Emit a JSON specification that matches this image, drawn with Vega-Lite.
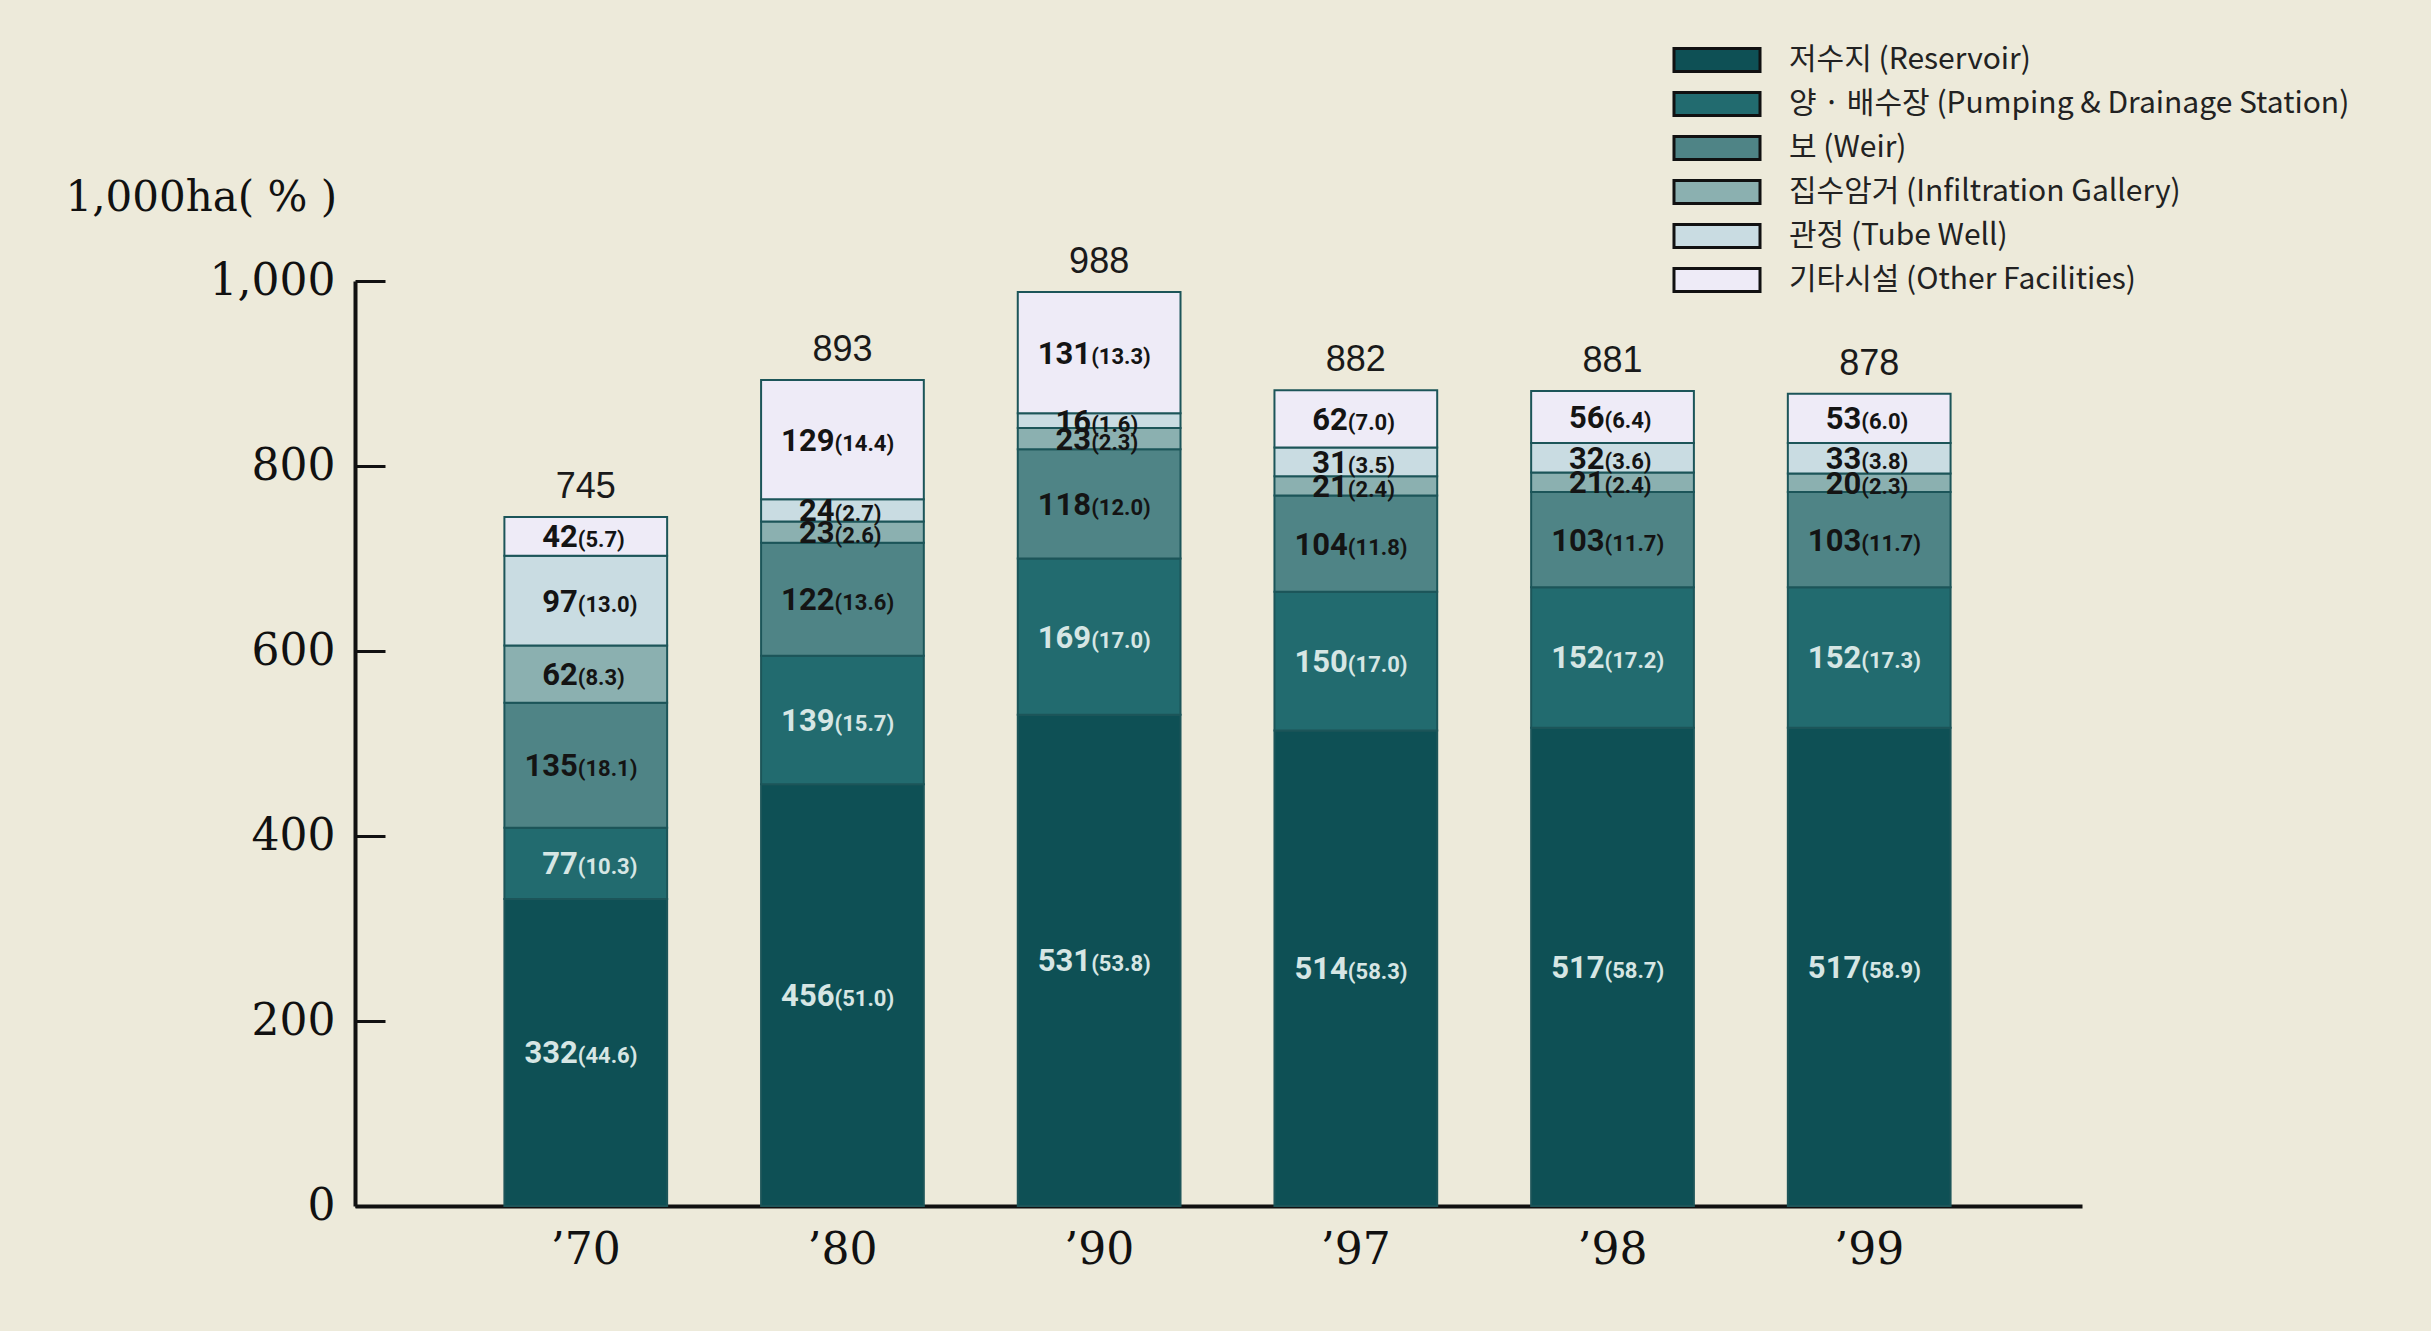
{
  "$schema": "https://vega.github.io/schema/vega-lite/v6.json",
  "width": 1727,
  "height": 925,
  "autosize": "none",
  "padding": {"left": 355, "top": 281, "right": 349, "bottom": 125},
  "background": "#EDEADA",
  "config": {
    "view": {"stroke": null},
    "legend": {
      "orient": "none",
      "legendX": 1347,
      "legendY": -236,
      "padding": 0,
      "symbolType": "M-3.74,-1H3.74V1H-3.74Z",
      "symbolSize": 529,
      "symbolStrokeColor": "#111111",
      "symbolStrokeWidth": 3,
      "symbolOpacity": 1,
      "labelFont": "Noto Sans CJK KR",
      "labelFontSize": 30,
      "labelColor": "#222222",
      "labelOffset": 57,
      "labelLimit": 1000,
      "rowPadding": 8
    }
  },
  "data": {
    "values": [
      {"year": "’70", "k": 1, "type": "저수지 (Reservoir)", "v": 332, "p": "44.6"},
      {"year": "’70", "k": 2, "type": "양 · 배수장 (Pumping & Drainage Station)", "v": 77, "p": "10.3"},
      {"year": "’70", "k": 3, "type": "보 (Weir)", "v": 135, "p": "18.1"},
      {"year": "’70", "k": 4, "type": "집수암거 (Infiltration Gallery)", "v": 62, "p": "8.3"},
      {"year": "’70", "k": 5, "type": "관정 (Tube Well)", "v": 97, "p": "13.0"},
      {"year": "’70", "k": 6, "type": "기타시설 (Other Facilities)", "v": 42, "p": "5.7"},
      {"year": "’80", "k": 1, "type": "저수지 (Reservoir)", "v": 456, "p": "51.0"},
      {"year": "’80", "k": 2, "type": "양 · 배수장 (Pumping & Drainage Station)", "v": 139, "p": "15.7"},
      {"year": "’80", "k": 3, "type": "보 (Weir)", "v": 122, "p": "13.6"},
      {"year": "’80", "k": 4, "type": "집수암거 (Infiltration Gallery)", "v": 23, "p": "2.6"},
      {"year": "’80", "k": 5, "type": "관정 (Tube Well)", "v": 24, "p": "2.7"},
      {"year": "’80", "k": 6, "type": "기타시설 (Other Facilities)", "v": 129, "p": "14.4"},
      {"year": "’90", "k": 1, "type": "저수지 (Reservoir)", "v": 531, "p": "53.8"},
      {"year": "’90", "k": 2, "type": "양 · 배수장 (Pumping & Drainage Station)", "v": 169, "p": "17.0"},
      {"year": "’90", "k": 3, "type": "보 (Weir)", "v": 118, "p": "12.0"},
      {"year": "’90", "k": 4, "type": "집수암거 (Infiltration Gallery)", "v": 23, "p": "2.3"},
      {"year": "’90", "k": 5, "type": "관정 (Tube Well)", "v": 16, "p": "1.6"},
      {"year": "’90", "k": 6, "type": "기타시설 (Other Facilities)", "v": 131, "p": "13.3"},
      {"year": "’97", "k": 1, "type": "저수지 (Reservoir)", "v": 514, "p": "58.3"},
      {"year": "’97", "k": 2, "type": "양 · 배수장 (Pumping & Drainage Station)", "v": 150, "p": "17.0"},
      {"year": "’97", "k": 3, "type": "보 (Weir)", "v": 104, "p": "11.8"},
      {"year": "’97", "k": 4, "type": "집수암거 (Infiltration Gallery)", "v": 21, "p": "2.4"},
      {"year": "’97", "k": 5, "type": "관정 (Tube Well)", "v": 31, "p": "3.5"},
      {"year": "’97", "k": 6, "type": "기타시설 (Other Facilities)", "v": 62, "p": "7.0"},
      {"year": "’98", "k": 1, "type": "저수지 (Reservoir)", "v": 517, "p": "58.7"},
      {"year": "’98", "k": 2, "type": "양 · 배수장 (Pumping & Drainage Station)", "v": 152, "p": "17.2"},
      {"year": "’98", "k": 3, "type": "보 (Weir)", "v": 103, "p": "11.7"},
      {"year": "’98", "k": 4, "type": "집수암거 (Infiltration Gallery)", "v": 21, "p": "2.4"},
      {"year": "’98", "k": 5, "type": "관정 (Tube Well)", "v": 32, "p": "3.6"},
      {"year": "’98", "k": 6, "type": "기타시설 (Other Facilities)", "v": 56, "p": "6.4"},
      {"year": "’99", "k": 1, "type": "저수지 (Reservoir)", "v": 517, "p": "58.9"},
      {"year": "’99", "k": 2, "type": "양 · 배수장 (Pumping & Drainage Station)", "v": 152, "p": "17.3"},
      {"year": "’99", "k": 3, "type": "보 (Weir)", "v": 103, "p": "11.7"},
      {"year": "’99", "k": 4, "type": "집수암거 (Infiltration Gallery)", "v": 20, "p": "2.3"},
      {"year": "’99", "k": 5, "type": "관정 (Tube Well)", "v": 33, "p": "3.8"},
      {"year": "’99", "k": 6, "type": "기타시설 (Other Facilities)", "v": 53, "p": "6.0"}
    ]
  },
  "transform": [
    {"stack": "v", "groupby": ["year"], "sort": [{"field": "k", "order": "ascending"}], "as": ["y0", "y1"]},
    {"calculate": "(datum.y0 + datum.y1) / 2", "as": "ym"},
    {"calculate": "'(' + datum.p + ')'", "as": "pl"}
  ],
  "encoding": {
    "x": {
      "field": "year",
      "type": "nominal",
      "sort": null,
      "scale": {"paddingInner": 0.366, "paddingOuter": 0.547, "align": 0.532},
      "axis": {
        "title": null,
        "labelAngle": 0,
        "labelFont": "DejaVu Serif",
        "labelFontSize": 44,
        "labelColor": "#111111",
        "labelPadding": 22,
        "ticks": false,
        "domainColor": "#111111",
        "domainWidth": 4
      }
    },
    "y": {
      "field": "y1",
      "type": "quantitative",
      "scale": {"domain": [0, 1000], "nice": false},
      "axis": {
        "title": "1,000ha( % )",
        "titleAngle": 0,
        "titleAlign": "left",
        "titleBaseline": "middle",
        "titleX": -290,
        "titleY": -84,
        "titleFont": "DejaVu Serif",
        "titleFontSize": 42,
        "titleFontWeight": "normal",
        "titleColor": "#111111",
        "values": [0, 200, 400, 600, 800, 1000],
        "format": ",d",
        "grid": false,
        "labelFont": "DejaVu Serif",
        "labelFontSize": 44,
        "labelColor": "#111111",
        "labelPadding": 50,
        "tickSize": -30,
        "tickWidth": 3,
        "tickColor": "#111111",
        "domainColor": "#111111",
        "domainWidth": 4
      }
    }
  },
  "layer": [
    {
      "mark": {"type": "bar", "stroke": "#1C5559", "strokeWidth": 2},
      "encoding": {
        "y2": {"field": "y0"},
        "color": {
          "field": "type",
          "type": "nominal",
          "sort": null,
          "scale": {
            "domain": ["저수지 (Reservoir)", "양 · 배수장 (Pumping & Drainage Station)", "보 (Weir)", "집수암거 (Infiltration Gallery)", "관정 (Tube Well)", "기타시설 (Other Facilities)"],
            "range": ["#0E5055", "#226B6F", "#4F8486", "#8BB0B0", "#C9DCE2", "#EEEBF7"]
          },
          "legend": {"title": null}
        }
      }
    },
    {
      "mark": {"type": "text", "align": "right", "baseline": "alphabetic", "dx": -8, "dy": 11, "font": "Roboto", "fontWeight": "bold", "fontSize": 31},
      "encoding": {
        "y": {"field": "ym", "type": "quantitative"},
        "text": {"field": "v", "type": "quantitative"},
        "color": {"condition": {"test": "datum.k <= 2", "value": "#D6E6E4"}, "value": "#141414"}
      }
    },
    {
      "mark": {"type": "text", "align": "left", "baseline": "alphabetic", "dx": -8, "dy": 11, "font": "Roboto", "fontWeight": "bold", "fontSize": 22},
      "encoding": {
        "y": {"field": "ym", "type": "quantitative"},
        "text": {"field": "pl", "type": "nominal"},
        "color": {"condition": {"test": "datum.k <= 2", "value": "#D6E6E4"}, "value": "#141414"}
      }
    },
    {
      "transform": [{"aggregate": [{"op": "sum", "field": "v", "as": "total"}], "groupby": ["year"]}],
      "mark": {"type": "text", "baseline": "middle", "dy": -30, "font": "Liberation Sans", "fontSize": 36, "color": "#1A1A1A"},
      "encoding": {
        "y": {"field": "total", "type": "quantitative"},
        "text": {"field": "total", "type": "quantitative"}
      }
    }
  ]
}
